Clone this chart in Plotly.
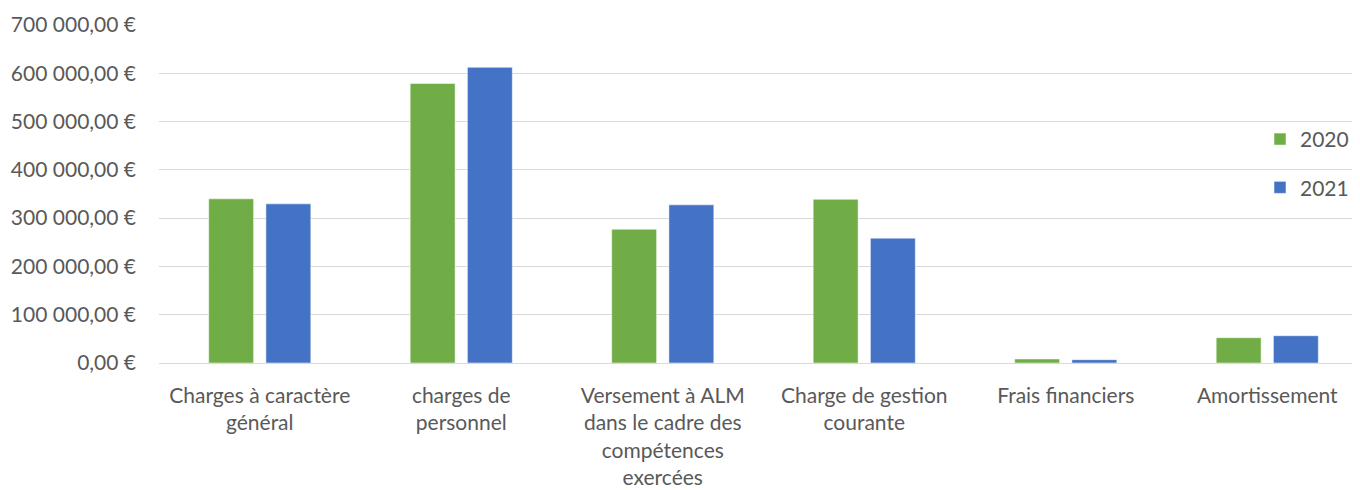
import plotly.graph_objects as go

categories = [
    "Charges à caractère<br>général",
    "charges de<br>personnel",
    "Versement à ALM<br>dans le cadre des<br>compétences<br>exercées",
    "Charge de gestion<br>courante",
    "Frais financiers",
    "Amortissement",
]
values_2020 = [340000, 579000, 277000, 339000, 8300, 52400]
values_2021 = [329600, 612400, 327500, 258600, 6900, 56500]
y_ticks = [0, 100000, 200000, 300000, 400000, 500000, 600000, 700000]
y_tick_labels = ["0,00 €", "100 000,00 €", "200 000,00 €", "300 000,00 €",
                 "400 000,00 €", "500 000,00 €", "600 000,00 €", "700 000,00 €"]

FONT = "Lato"
TXT = "#595959"
FS = 21

fig = go.Figure()
fig.add_trace(go.Bar(x=list(range(len(categories))), y=values_2020, name="2020",
                     marker=dict(color="#70ad47", line=dict(color="rgba(255,255,255,0.5)", width=1)),
                     legendgroup="a"))
fig.add_trace(go.Bar(x=list(range(len(categories))), y=values_2021, name="2021",
                     marker=dict(color="#4472c4", line=dict(color="rgba(255,255,255,0.5)", width=1)),
                     legendgroup="b"))

fig.update_layout(
    width=1360, height=490,
    margin=dict(l=151, r=0, t=17, b=135, autoexpand=False),
    paper_bgcolor="white", plot_bgcolor="white",
    barmode="group", bargap=0.432, bargroupgap=0.215,
    font=dict(family=FONT, size=FS, color=TXT),
    legend=dict(x=(1260 - 159) / 1209, xanchor="left", y=1 - (119 - 25) / 338.3, yanchor="top",
                bgcolor="rgba(0,0,0,0)", tracegroupgap=18,
                font=dict(size=FS, color=TXT)),
    showlegend=True,
)
fig.update_xaxes(
    tickmode="array", tickvals=list(range(len(categories))), ticktext=categories,
    range=[-0.5, 5.5], showgrid=False, zeroline=False, showline=False,
    ticks="", ticklabelstandoff=18, tickfont=dict(family=FONT, size=FS, color=TXT),
)
fig.update_yaxes(
    range=[0, 700000], tickmode="array", tickvals=y_ticks, ticktext=y_tick_labels,
    showgrid=True, gridcolor="#d9d9d9", gridwidth=1, zeroline=True,
    zerolinecolor="#d9d9d9", zerolinewidth=1, showline=False, ticks="",
    ticklabelstandoff=22, tickfont=dict(family=FONT, size=FS, color=TXT),
)

fig.write_html("out.html")
